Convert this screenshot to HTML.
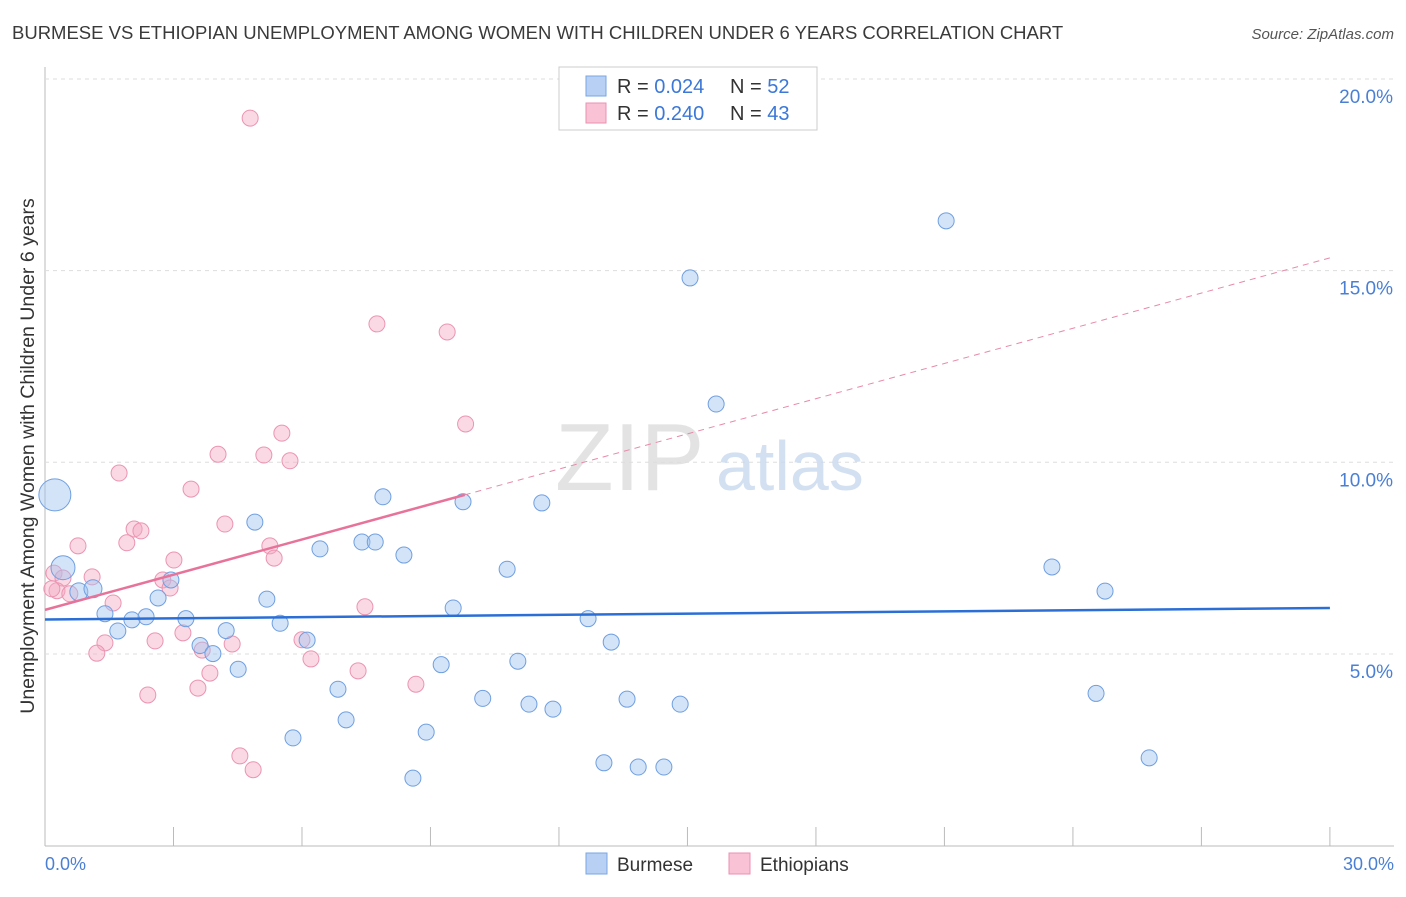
<!DOCTYPE html>
<html><head><meta charset="utf-8"><style>
body{margin:0;background:#fff;font-family:"Liberation Sans",sans-serif;}
svg text{font-family:"Liberation Sans",sans-serif;}
</style></head><body>
<svg id="chart" width="1406" height="892" viewBox="0 0 1406 892" xmlns="http://www.w3.org/2000/svg">
<text x="12" y="39" font-size="18.5" fill="#3a3a3a">BURMESE VS ETHIOPIAN UNEMPLOYMENT AMONG WOMEN WITH CHILDREN UNDER 6 YEARS CORRELATION CHART</text>
<text x="1394" y="39" font-size="15" fill="#555" font-style="italic" text-anchor="end">Source: ZipAtlas.com</text>
<g id="grid"></g>
<text x="555" y="490" font-size="96" fill="#ddd" font-family="Liberation Serif" opacity="0.8">ZIP</text>
<text x="716" y="490" font-size="70" fill="#c9d9f0" opacity="0.8">atlas</text>
<text transform="translate(34,456) rotate(-90)" font-size="19.5" fill="#333" text-anchor="middle">Unemployment Among Women with Children Under 6 years</text>
<g id="marks"></g>
<g>
<rect x="559" y="67" width="258" height="63" fill="#fff" stroke="#ccc"/>
<rect x="586" y="76" width="20" height="20" fill="#b7d0f3" stroke="#7aa6e3"/>
<rect x="586" y="103" width="20" height="20" fill="#f9c3d5" stroke="#ea92b0"/>
<text x="617" y="93" font-size="20" fill="#333">R = <tspan fill="#3b78d8">0.024</tspan></text>
<text x="730" y="93" font-size="20" fill="#333">N = <tspan fill="#3b78d8">52</tspan></text>
<text x="617" y="120" font-size="20" fill="#333">R = <tspan fill="#3b78d8">0.240</tspan></text>
<text x="730" y="120" font-size="20" fill="#333">N = <tspan fill="#3b78d8">43</tspan></text>
</g>
<g>
<rect x="586" y="853" width="21" height="21" fill="#b7d0f3" stroke="#7aa6e3"/>
<text x="617" y="871" font-size="19" fill="#333">Burmese</text>
<rect x="729" y="853" width="21" height="21" fill="#f9c3d5" stroke="#ea92b0"/>
<text x="760" y="871" font-size="19" fill="#333">Ethiopians</text>
</g>
</svg>
<script>
const xTicks=[0,3,6,9,12,15,18,21,24,27,30];
const yTicks=[5,10,15,20];
const burmeseX=[0.23,0.42,0.79,1.12,1.40,1.70,2.03,2.36,2.64,2.94,3.29,3.62,3.92,4.23,4.51,4.90,5.18,5.49,5.79,6.12,6.42,6.84,7.03,7.40,7.71,7.89,8.38,8.59,8.90,9.25,9.53,9.76,10.22,10.79,11.04,11.30,11.60,11.86,12.68,13.05,13.22,13.59,13.85,14.45,14.83,15.06,15.67,21.04,23.51,24.54,24.75,25.78];
const burmeseY=[9.15,7.25,6.62,6.70,6.05,5.60,5.89,5.97,6.46,6.93,5.92,5.22,5.01,5.61,4.60,8.44,6.43,5.80,2.81,5.36,7.74,4.08,3.28,7.92,7.92,9.10,7.58,1.76,2.96,4.72,6.20,8.97,3.84,7.21,4.81,3.69,8.94,3.56,5.92,2.16,5.31,3.82,2.05,2.05,3.69,14.81,11.52,16.30,7.27,3.97,6.64,2.29];
const burmeseR=[16,12,9,9,8,8,8,8,8,8,8,8,8,8,8,8,8,8,8,8,8,8,8,8,8,8,8,8,8,8,8,8,8,8,8,8,8,8,8,8,8,8,8,8,8,8,8,8,8,8,8,8];
const ethX=[4.79,7.75,9.39,9.82,5.53,4.04,5.11,5.72,1.73,3.41,4.20,2.08,2.24,1.91,0.77,5.25,3.01,5.35,0.21,0.42,1.10,0.28,0.58,2.75,2.92,1.59,7.47,3.22,2.57,1.40,6.00,4.37,3.67,1.21,6.21,7.31,3.85,8.66,3.57,2.40,4.55,4.86,0.16];
const ethY=[18.98,13.61,13.40,11.00,10.76,10.21,10.19,10.04,9.72,9.30,8.39,8.26,8.21,7.90,7.82,7.82,7.45,7.50,7.11,6.98,7.01,6.65,6.57,6.93,6.72,6.33,6.23,5.55,5.34,5.29,5.37,5.26,5.10,5.02,4.87,4.56,4.50,4.21,4.11,3.93,2.34,1.98,6.70];
const burTrend=[5.9,6.2];
const ethTrend=[6.15,9.15];
const ethTrendEndX=9.8;
const X=v=>45+v*42.83, Y=v=>845.6-v*38.33;
const NS="http://www.w3.org/2000/svg";
const grid=document.getElementById('grid'), marks=document.getElementById('marks');
function mk(tag,attrs,parent){const e=document.createElementNS(NS,tag);for(const k in attrs)e.setAttribute(k,attrs[k]);parent.appendChild(e);return e;}
let ax=mk('line',{x1:45,y1:67,x2:45,y2:846,stroke:'#bbb'},grid);


let bx=mk('line',{x1:45,y1:846,x2:1394,y2:846,stroke:'#bbb'},grid);


yTicks.forEach(t=>{
 const l=mk('line',{x1:45,x2:1394,y1:Y(t),y2:Y(t),stroke:'#ddd','stroke-dasharray':'4,4'},grid);
 
 
 const tx=mk('text',{x:1393,y:Y(t)+24,'font-size':19,fill:'#4a7fd4','text-anchor':'end'},grid);
 tx.textContent=t.toFixed(1)+'%';
 
 
});
xTicks.forEach(t=>{
 const l=mk('line',{x1:X(t),x2:X(t),y1:827,y2:846,stroke:'#bbb'},grid);
 
 
});
[[0,'start',45],[30,'end',1394]].forEach(([v,a,px])=>{
 const tx=mk('text',{x:px,y:870,'font-size':18,fill:'#4a7fd4','text-anchor':a},grid);
 tx.textContent=v.toFixed(1)+'%';
 
 
});
ethX.forEach((v,i)=>{
 const c=mk('circle',{cx:X(v),cy:Y(ethY[i]),r:8,fill:'rgba(244,170,196,0.45)',stroke:'#eb94b2','stroke-width':1},marks);
 
 
});
burmeseX.forEach((v,i)=>{
 const c=mk('circle',{cx:X(v),cy:Y(burmeseY[i]),r:burmeseR[i],fill:'rgba(160,195,240,0.45)',stroke:'#6f9fe0','stroke-width':1},marks);
 
 
});
const bl=mk('line',{x1:X(0),y1:Y(burTrend[0]),x2:X(30),y2:Y(burTrend[1]),stroke:'#2b6fd6','stroke-width':2.5},marks);


const slope=(ethTrend[1]-ethTrend[0])/ethTrendEndX;
const ed=mk('line',{x1:X(ethTrendEndX),y1:Y(ethTrend[1]),x2:X(30),y2:Y(ethTrend[0]+slope*30),stroke:'#e88aa8','stroke-width':1,'stroke-dasharray':'6,5'},marks);


const el=mk('line',{x1:X(0),y1:Y(ethTrend[0]),x2:X(ethTrendEndX),y2:Y(ethTrend[1]),stroke:'#e8739a','stroke-width':2.5},marks);


</script>
</body></html>
